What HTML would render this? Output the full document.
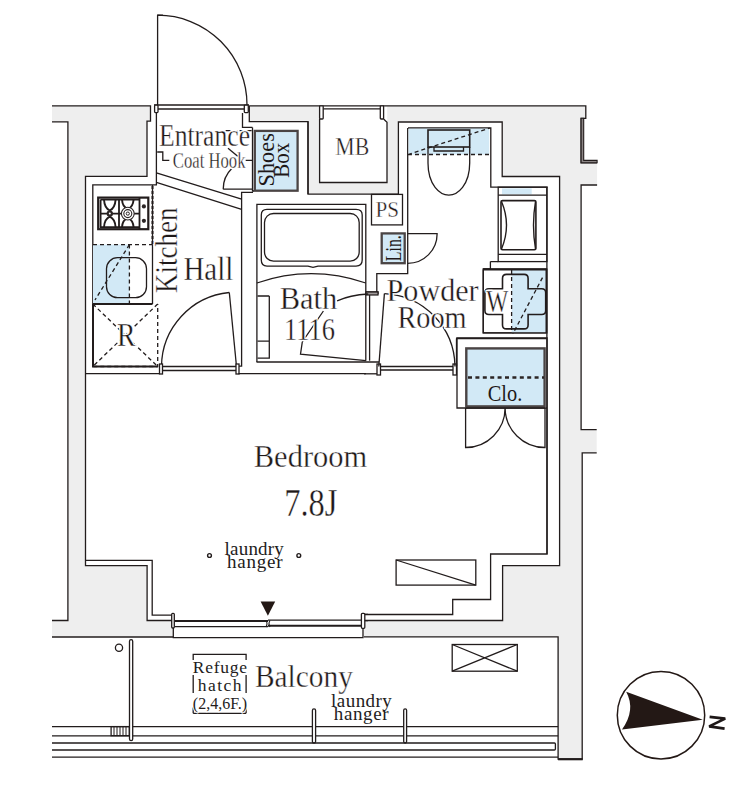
<!DOCTYPE html>
<html><head><meta charset="utf-8">
<style>
html,body{margin:0;padding:0;background:#fff;width:749px;height:800px;overflow:hidden}
svg{display:block}
.g{fill:#eeeeee;stroke:none}
.l{fill:none;stroke:#221c1c;stroke-width:1.3;stroke-linejoin:miter}
.lw{fill:#fff;stroke:#221c1c;stroke-width:1.3}
.bl{fill:#d2e9f6;stroke:none}
.d{fill:none;stroke:#221c1c;stroke-width:1.3;stroke-dasharray:4 3}
.t{font-family:"Liberation Serif",serif;fill:#231815;stroke:#fff;stroke-width:2.5;paint-order:stroke;stroke-linejoin:round}
</style></head><body>
<svg width="749" height="800" viewBox="0 0 749 800">
<!-- gray walls -->
<path class="g" d="M52,105.8H150.5V121.2H147V176.3H85.5V565.6H147.1V620.5H173V637H52V620.5H68V121.8H52Z"/>
<path class="g" d="M249.3,105.8H585.8V118.3H581.1V162.8H597.1V185H581.1V429.7H596.7V452.8H582.2V759.2H558.1V636.8H364V620.5H502.6V565.7H559.6V176.5H502.2V122H398.4V194.1H308V121.6H249.3Z"/>
<rect x="319.5" y="105.8" width="67.7" height="76.7" fill="#fff"/>

<!-- outer lines -->
<path class="l" d="M52,105.8H150.5V121.2H147V176.3H85.5V565.6H147.1V620.5H173"/>
<path class="l" d="M52,121.8H67.9V620.5H52"/>
<path class="l" d="M52,637H173"/>
<path class="l" d="M85.7,560.4H152.2V615.1H173"/>
<path class="l" d="M249.3,105.8H585.8V118.3H581.1V162.8H597.1"/>
<path d="M581.1,118.3H583.7V160.4H597.1V162.8H581.1Z" fill="#8a8484" stroke="#221c1c" stroke-width="1.1"/>
<path class="l" d="M597.1,185H581.1V429.7H596.7"/>
<path class="l" d="M596.7,452.8H582.2V759.2H558.1V636.8H364"/>
<path class="l" style="stroke-width:2.2" d="M558.1,759.2H582.7"/>
<path class="l" d="M364,620.5H502.6V565.7H559.6V176.5H502.2V122H398.4V194.1H308V121.6H249.3V105.8"/>
<path class="l" d="M364,614.5H452.7V599.5H490.6V554H547.1V338H457V408H547.1"/>
<!-- MB -->
<path class="l" d="M319.6,119V182.5H387V122.2L383.6,119"/>
<path class="l" d="M323.2,108.8H380.3"/>
<rect class="lw" x="319.6" y="105.8" width="3.6" height="13.2" rx="0.8"/>
<rect class="lw" x="380.3" y="105.8" width="3.3" height="13.2" rx="0.8"/>
<!-- entrance door -->
<path class="l" d="M157.6,105V15.2A89.5,89.5 0 0 1 247,105"/>
<path class="l" d="M157.6,15.2H163"/>
<path class="l" d="M154,105H249M158,109H244"/>
<rect class="lw" x="154.6" y="105.2" width="3.4" height="7.4" rx="0.8"/>
<rect class="lw" x="244.3" y="105.2" width="4" height="7.4" rx="0.8"/>
<path class="l" d="M156.4,113V184.8H92.8V366.5"/>
<path class="l" d="M242.5,113V127.4H252.5"/>
<!-- entrance diagonals -->
<path class="l" d="M156.4,172.8L241.6,199.2M156.4,182.4L241.6,209.3"/>
<path class="l" d="M238.4,366.2H241.6V192.4H253"/>

<!-- hall door -->
<path class="l" d="M160.4,366.5H237.3M160.4,370.5H237.3"/>
<path class="l" d="M236.5,366.5L229.3,292.5"/>
<path class="l" d="M229.3,292.5A75,75 0 0 0 161.5,366.5"/>
<rect class="lw" x="159.5" y="364" width="3" height="10"/>
<rect class="lw" x="236" y="364" width="3" height="10"/>
<path class="l" d="M85.5,373.6H159.5M238.5,373.6H366"/>

<!-- bath -->
<path class="l" d="M256.9,362V204.4H365.8V360.7"/>
<path class="l" d="M369.6,293.6V360.7"/>
<path class="l" style="stroke-width:1.6" d="M256.5,362H379"/>
<path class="l" d="M366,293.6H378V292H366"/>
<rect x="366" y="292" width="12" height="3" fill="#a09a9a" stroke="#221c1c" stroke-width="1.2"/>
<path class="l" d="M377,373.8H364"/>

<!-- powder walls -->
<path class="l" d="M407.7,128V273.6H376.8V292.1"/>
<path class="l" d="M408,128H490.8V187.2H547.7"/>
<path class="l" d="M378.8,366.5H455M378.8,370H455"/>
<rect class="lw" x="377" y="364" width="3.5" height="11"/>
<rect class="lw" x="453" y="364" width="3.5" height="11"/>
<path class="l" d="M456.5,338.5V366"/>
<path class="l" d="M384.4,293.6L378.8,366.5"/>
<path class="l" d="M384.4,293.6A74,74 0 0 1 455,366.5"/>

<!-- PS -->
<rect class="l" x="371.5" y="194.4" width="31" height="30.5"/>


<!-- kitchen counter -->
<path class="l" d="M152.5,185V244.6"/>
<path class="l" style="stroke-width:2;stroke-dasharray:3 2" d="M152.5,186V244"/>
<rect class="bl" x="93" y="244.6" width="36.4" height="59.4"/>
<path class="d" d="M93,244.6H152.5M129.4,244.6V304"/>
<path class="l" d="M152.5,244.6V304"/>
<path class="l" style="stroke-width:2.2" d="M92.8,304H152.5"/>
<rect class="l" x="106.5" y="257.7" width="40" height="40" rx="11"/>
<path class="d" d="M129.4,244.6L95,300"/>
<!-- stove -->
<rect class="l" style="stroke-width:2.2" x="98.2" y="197.6" width="50.1" height="31.6"/>
<path class="l" style="stroke-width:1.8" d="M100.6,199.6V227.2H139.5V199.6H100.6M119,199.6V227.2M139.5,198V229"/>
<circle cx="143.9" cy="206.4" r="2.1" fill="#2b2525"/>
<circle cx="143.9" cy="220.8" r="2.1" fill="#2b2525"/>
<path class="l" style="stroke-width:1.9" d="M104,199.6Q104.5,208 109.8,210.5Q115,208 115.6,199.6M104,227.2Q104.5,219 109.8,216.7Q115,219 115.6,227.2M100.6,213.6H119"/>
<path class="l" style="stroke-width:1.9" d="M122,199.6Q122.5,207 127.8,209Q133,207 133.6,199.6M122,227.2Q122.5,220 127.8,218.2Q133,220 133.6,227.2M119,213.6H139.5"/>
<circle cx="109.8" cy="213.6" r="3.2" fill="#2b2525"/>
<circle cx="109.8" cy="213.6" r="1" fill="#fff"/>
<circle cx="127.8" cy="213.6" r="6.4" fill="#fff" stroke="#2b2525" stroke-width="1.1"/>
<circle cx="127.8" cy="213.6" r="4" fill="none" stroke="#2b2525" stroke-width="1.1"/>
<circle cx="127.8" cy="213.6" r="1.6" fill="none" stroke="#2b2525" stroke-width="1"/>
<!-- fridge -->
<path class="d" d="M92.8,304V366.5H157.7V304M92.8,304L157.7,366.5M157.7,304L92.8,366.5"/>
<path class="l" style="stroke-width:2" d="M93,304V366.5H157.7"/>

<!-- shoes box -->
<rect x="254.8" y="130.9" width="42.8" height="59.8" fill="#d2e9f6" stroke="#4a4444" stroke-width="2.3"/>
<path class="l" d="M252.5,127.4V191H254"/>
<path class="l" d="M225.6,130.6H252.5" style="stroke-dasharray:5 2"/>
<path class="l" d="M157.2,152H162.8V160.4H169.3M245.7,160.3H252.5"/>
<path class="l" d="M228,148.3L237.7,156.3"/>
<path class="l" d="M223.2,189.2H252.5M223.2,189.2A29,29 0 0 1 232,168.2"/>
<path class="l" d="M308,121.6V194.1"/>

<!-- tub -->
<path class="l" d="M261.3,215C261.3,211 263,209.3 267,209.3H356C360,209.3 362.2,211 362.2,215V260C362.2,264 360,266.1 356,266.1H318L313,267.3L308,266.1H267C263,266.1 261.3,264 261.3,260Z"/>
<rect class="l" x="264.5" y="213.5" width="94.7" height="47.6" rx="9"/>
<path class="l" d="M256.9,283Q311,264.4 365.8,283"/>
<path class="l" d="M257.5,341.1H269.3V358.2H257.5M269.3,296V341.1M257.5,296H269.3"/>
<path class="l" d="M365.9,360.7L300.5,354.2L302.3,342L323.4,311"/>
<path class="l" d="M337.1,300.8Q350,295 368.2,294"/>

<!-- lin -->
<rect x="381.7" y="233.4" width="23" height="29.8" fill="#d2e9f6" stroke="#4a4444" stroke-width="2.3"/>
<path class="l" d="M407.7,233.6H437.1A29.4,29.4 0 0 1 407.7,263.3"/>

<!-- toilet -->
<rect class="bl" x="408.6" y="128.6" width="80.6" height="25.9"/>
<path class="d" d="M408,154.5H490.8M408,154.5L489.8,128"/>
<rect class="l" x="428" y="130" width="41.7" height="17" style="stroke-width:1.6"/>
<path class="l" d="M434,147V151H463.5V147"/>
<path class="l" d="M428,147V163C428,185 440,195.1 448.8,195.1C457.6,195.1 469.7,185 469.7,163V147"/>

<!-- vanity -->
<rect class="l" x="498.2" y="187.2" width="48.7" height="74.4"/>
<rect class="bl" x="502" y="188.4" width="29.7" height="6"/>
<path class="l" d="M498.2,195.2H546.9M498.2,254.4H546.9"/>
<rect class="l" style="stroke-width:1.6" x="501" y="200.6" width="34.9" height="49.1" rx="1.5"/>
<path class="l" style="stroke-width:1.4" d="M501.5,201.5Q511.5,225 501.5,249M535.5,201.5Q531.5,225 535.5,249"/>
<path class="l" d="M490.4,261.6V268.8H483.2V332.9H546.9V187.2M490.4,261.6H498.2"/>
<path class="l" d="M483.2,268.8H546.9M546.9,332.9V554"/>
<path class="l" d="M456,338.5H546.9"/>
<!-- washer pan -->
<rect class="bl" x="511.6" y="269.8" width="35" height="63"/>
<path class="l" d="M483.3,269.6V332.9H546.5"/>
<path class="l" style="stroke-width:2" d="M483.3,269.6H546.5V332.9"/>
<path class="l" style="stroke-width:1.6" d="M506.5,274.4H524.1Q528.1,274.4 528.1,278.4V288.8H541.7Q545.7,288.8 545.7,292.8V310.5Q545.7,314.5 541.7,314.5H528.1V324.9Q528.1,328.9 524.1,328.9H506.5Q502.5,328.9 502.5,324.9V314.5H488.9Q484.9,314.5 484.9,310.5V292.8Q484.9,288.8 488.9,288.8H502.5V278.4Q502.5,274.4 506.5,274.4Z"/>
<path class="d" d="M511.6,270V333M542.5,277.6L512.9,333.7"/>

<!-- closet -->
<rect x="466.3" y="348.4" width="78.3" height="58" fill="#d2e9f6" stroke="#4a4444" stroke-width="2.4"/>
<path fill="none" stroke="#2b2525" stroke-width="2.6" stroke-dasharray="4 3.4" d="M468,377.5H544"/>
<path class="l" d="M465.6,408V447.5A39.5,39.5 0 0 0 505.1,408M545,408V447.5A39.9,39.9 0 0 1 505.1,408"/>
<path class="l" d="M465.6,408H545"/>

<!-- window -->
<path class="l" style="stroke-width:2" d="M174.4,621H268M268,625.7H361.4"/>
<path class="l" d="M174.4,626.7H268M268,620.2H361.4"/>
<path class="l" style="stroke-width:1.1" d="M266,620.5Q268,623.5 266,627M270,620.5Q268,623.5 270,627"/>
<rect class="lw" x="171.7" y="613.3" width="2.6" height="14.7" rx="1"/>
<rect class="lw" x="361.4" y="613.3" width="3.4" height="15" rx="1"/>
<path class="l" d="M173.3,628V637.7H363V628.4"/>
<path fill="#231815" d="M260.6,601.5H275.2L267.9,615.7Z"/>
<path class="l" d="M364.8,614.3H368M364.8,620.7H368"/>
<!-- AC -->
<rect class="l" x="396.1" y="560" width="79.7" height="25.1"/>
<path class="l" d="M396.1,560L475.8,585.1"/>

<!-- balcony -->
<circle cx="119" cy="647.7" r="3.6" class="l"/>
<rect class="l" x="129.5" y="639.6" width="3.2" height="101" rx="1.6"/>
<rect class="l" x="111.1" y="726.6" width="18.2" height="9.1"/>
<path class="l" style="stroke-width:1" d="M114,727V735.5M117,727V735.5M120,727V735.5M123,727V735.5M126,727V735.5"/>
<path class="l" d="M52,726.6H129.5M132.7,726.6H312.4M315.6,726.6H403.7M406.6,726.6H558.1"/>
<path class="l" d="M52,735.9H129.5M132.7,735.9H312.4M315.6,735.9H403.7M406.6,735.9H558.1"/>
<path class="l" d="M52,743H554.4Q555.4,743 555.4,744V749Q555.4,750 554.4,750H52"/>
<path class="l" d="M52,757.1H558.1"/>
<rect class="l" x="312.4" y="708.8" width="3.2" height="34.2" rx="1.6"/>
<rect class="l" x="403.7" y="708.8" width="2.9" height="34.2" rx="1.4"/>
<rect class="l" x="452.2" y="644.5" width="65.1" height="26.7"/>
<path class="l" d="M452.2,644.5L517.3,671.2M517.3,644.5L452.2,671.2"/>
<path class="l" d="M193.2,660V654.4H246.1V660M193.2,713.3V707.5M246.1,713.3V707.5M193.2,713.3H246.1M193.2,675V693M246.1,675V693"/>

<!-- compass -->
<circle cx="661" cy="715.2" r="43.7" fill="none" stroke="#231815" stroke-width="1.5"/>
<path fill="#231815" d="M702.8,719.8L626.2,691.8Q636,710 622,729.5Z"/>


<!-- text -->
<g font-family="Liberation Serif" fill="#fff" stroke="#fff" stroke-width="2.6" stroke-linejoin="round">
<text x="159" y="145.7" font-size="32" textLength="91" lengthAdjust="spacingAndGlyphs">Entrance</text>
<text x="172.8" y="167.8" font-size="24" textLength="72.7" lengthAdjust="spacingAndGlyphs">Coat Hook</text>
<text x="335.3" y="154.9" font-size="25.5" textLength="33.9" lengthAdjust="spacingAndGlyphs">MB</text>
<text x="375.5" y="217" font-size="22.5" textLength="23.5" lengthAdjust="spacingAndGlyphs">PS</text>
<text transform="translate(177,293) rotate(-90)" font-size="32" textLength="85.5" lengthAdjust="spacingAndGlyphs">Kitchen</text>
<text x="183.4" y="279.6" font-size="33" textLength="50" lengthAdjust="spacingAndGlyphs">Hall</text>
<text x="117" y="345.9" font-size="33" textLength="18.5" lengthAdjust="spacingAndGlyphs">R</text>
<text x="279.8" y="308.7" font-size="32.5" textLength="57.5" lengthAdjust="spacingAndGlyphs">Bath</text>
<text x="284" y="340" font-size="32.4" textLength="51" lengthAdjust="spacingAndGlyphs">1116</text>
<text x="386.6" y="300.5" font-size="32.2" textLength="92" lengthAdjust="spacingAndGlyphs">Powder</text>
<text x="397.4" y="328" font-size="32.2" textLength="69.2" lengthAdjust="spacingAndGlyphs">Room</text>
<text x="486.2" y="312.3" font-size="31" textLength="22" lengthAdjust="spacingAndGlyphs">W</text>
<text x="253.8" y="467.2" font-size="32" textLength="113.4" lengthAdjust="spacingAndGlyphs">Bedroom</text>
<text x="284.2" y="516.3" font-size="39" textLength="53.2" lengthAdjust="spacingAndGlyphs">7.8J</text>
<text x="254.9" y="686.6" font-size="30.5" textLength="98" lengthAdjust="spacingAndGlyphs">Balcony</text>

</g>
<g font-family="Liberation Serif" fill="#1e1818" stroke="#fff" stroke-width="0.35">
<text x="159" y="145.7" font-size="32" textLength="91" lengthAdjust="spacingAndGlyphs">Entrance</text>
<text x="172.8" y="167.8" font-size="24" textLength="72.7" lengthAdjust="spacingAndGlyphs">Coat Hook</text>
<text x="335.3" y="154.9" font-size="25.5" textLength="33.9" lengthAdjust="spacingAndGlyphs">MB</text>
<text x="375.5" y="217" font-size="22.5" textLength="23.5" lengthAdjust="spacingAndGlyphs">PS</text>
<text transform="translate(177,293) rotate(-90)" font-size="32" textLength="85.5" lengthAdjust="spacingAndGlyphs">Kitchen</text>
<text x="183.4" y="279.6" font-size="33" textLength="50" lengthAdjust="spacingAndGlyphs">Hall</text>
<text x="117" y="345.9" font-size="33" textLength="18.5" lengthAdjust="spacingAndGlyphs">R</text>
<text x="279.8" y="308.7" font-size="32.5" textLength="57.5" lengthAdjust="spacingAndGlyphs">Bath</text>
<text x="284" y="340" font-size="32.4" textLength="51" lengthAdjust="spacingAndGlyphs">1116</text>
<text x="386.6" y="300.5" font-size="32.2" textLength="92" lengthAdjust="spacingAndGlyphs">Powder</text>
<text x="397.4" y="328" font-size="32.2" textLength="69.2" lengthAdjust="spacingAndGlyphs">Room</text>
<text x="486.2" y="312.3" font-size="31" textLength="22" lengthAdjust="spacingAndGlyphs">W</text>
<text x="253.8" y="467.2" font-size="32" textLength="113.4" lengthAdjust="spacingAndGlyphs">Bedroom</text>
<text x="284.2" y="516.3" font-size="39" textLength="53.2" lengthAdjust="spacingAndGlyphs">7.8J</text>
<text x="254.9" y="686.6" font-size="30.5" textLength="98" lengthAdjust="spacingAndGlyphs">Balcony</text>

</g>
<g font-family="Liberation Serif" fill="#fff" stroke="#fff" stroke-width="2" stroke-linejoin="round">
<text x="224.6" y="555.2" font-size="19" textLength="59.2" lengthAdjust="spacing">laundry</text>
<text x="227.1" y="568.4" font-size="19" textLength="55.5" lengthAdjust="spacing">hanger</text>
<text x="192.8" y="673.1" font-size="17.5" textLength="54.2" lengthAdjust="spacing">Refuge</text>
<text x="197.8" y="690.9" font-size="17.5" textLength="43.6" lengthAdjust="spacing">hatch</text>
<text x="192.8" y="708.7" font-size="17" textLength="54.3" lengthAdjust="spacingAndGlyphs">(2,4,6F.)</text>
<text x="331.1" y="706.6" font-size="19" textLength="60.7" lengthAdjust="spacing">laundry</text>
<text x="333.8" y="720.2" font-size="19" textLength="54.8" lengthAdjust="spacing">hanger</text>
</g>
<g font-family="Liberation Serif" fill="#231c1c">
<text x="224.6" y="555.2" font-size="19" textLength="59.2" lengthAdjust="spacing">laundry</text>
<text x="227.1" y="568.4" font-size="19" textLength="55.5" lengthAdjust="spacing">hanger</text>
<text x="192.8" y="673.1" font-size="17.5" textLength="54.2" lengthAdjust="spacing">Refuge</text>
<text x="197.8" y="690.9" font-size="17.5" textLength="43.6" lengthAdjust="spacing">hatch</text>
<text x="192.8" y="708.7" font-size="17" textLength="54.3" lengthAdjust="spacingAndGlyphs">(2,4,6F.)</text>
<text x="331.1" y="706.6" font-size="19" textLength="60.7" lengthAdjust="spacing">laundry</text>
<text x="333.8" y="720.2" font-size="19" textLength="54.8" lengthAdjust="spacing">hanger</text>
</g>
<g font-family="Liberation Serif" fill="#1e1818">
<text transform="translate(273.6,186.4) rotate(-90)" font-size="24" textLength="53.2" lengthAdjust="spacingAndGlyphs">Shoes</text>
<text transform="translate(289.3,177.7) rotate(-90)" font-size="23" textLength="34.8" lengthAdjust="spacingAndGlyphs">Box</text>
<text transform="translate(401.4,261.2) rotate(-90)" font-size="24" textLength="26" lengthAdjust="spacingAndGlyphs">Lin.</text>
<text x="487.8" y="400.6" font-size="24" textLength="34.5" lengthAdjust="spacingAndGlyphs">Clo.</text>
</g>


<circle cx="209.5" cy="555.5" r="1.9" fill="none" stroke="#221c1c" stroke-width="1.4"/>
<circle cx="298.8" cy="555.5" r="1.9" fill="none" stroke="#221c1c" stroke-width="1.4"/>
<path d="M709.6,716.9L725.2,718.6L709.2,726.4L724.6,728.7" fill="none" stroke="#1e1818" stroke-width="2.7" stroke-linejoin="bevel"/>

</svg>
</body></html>
